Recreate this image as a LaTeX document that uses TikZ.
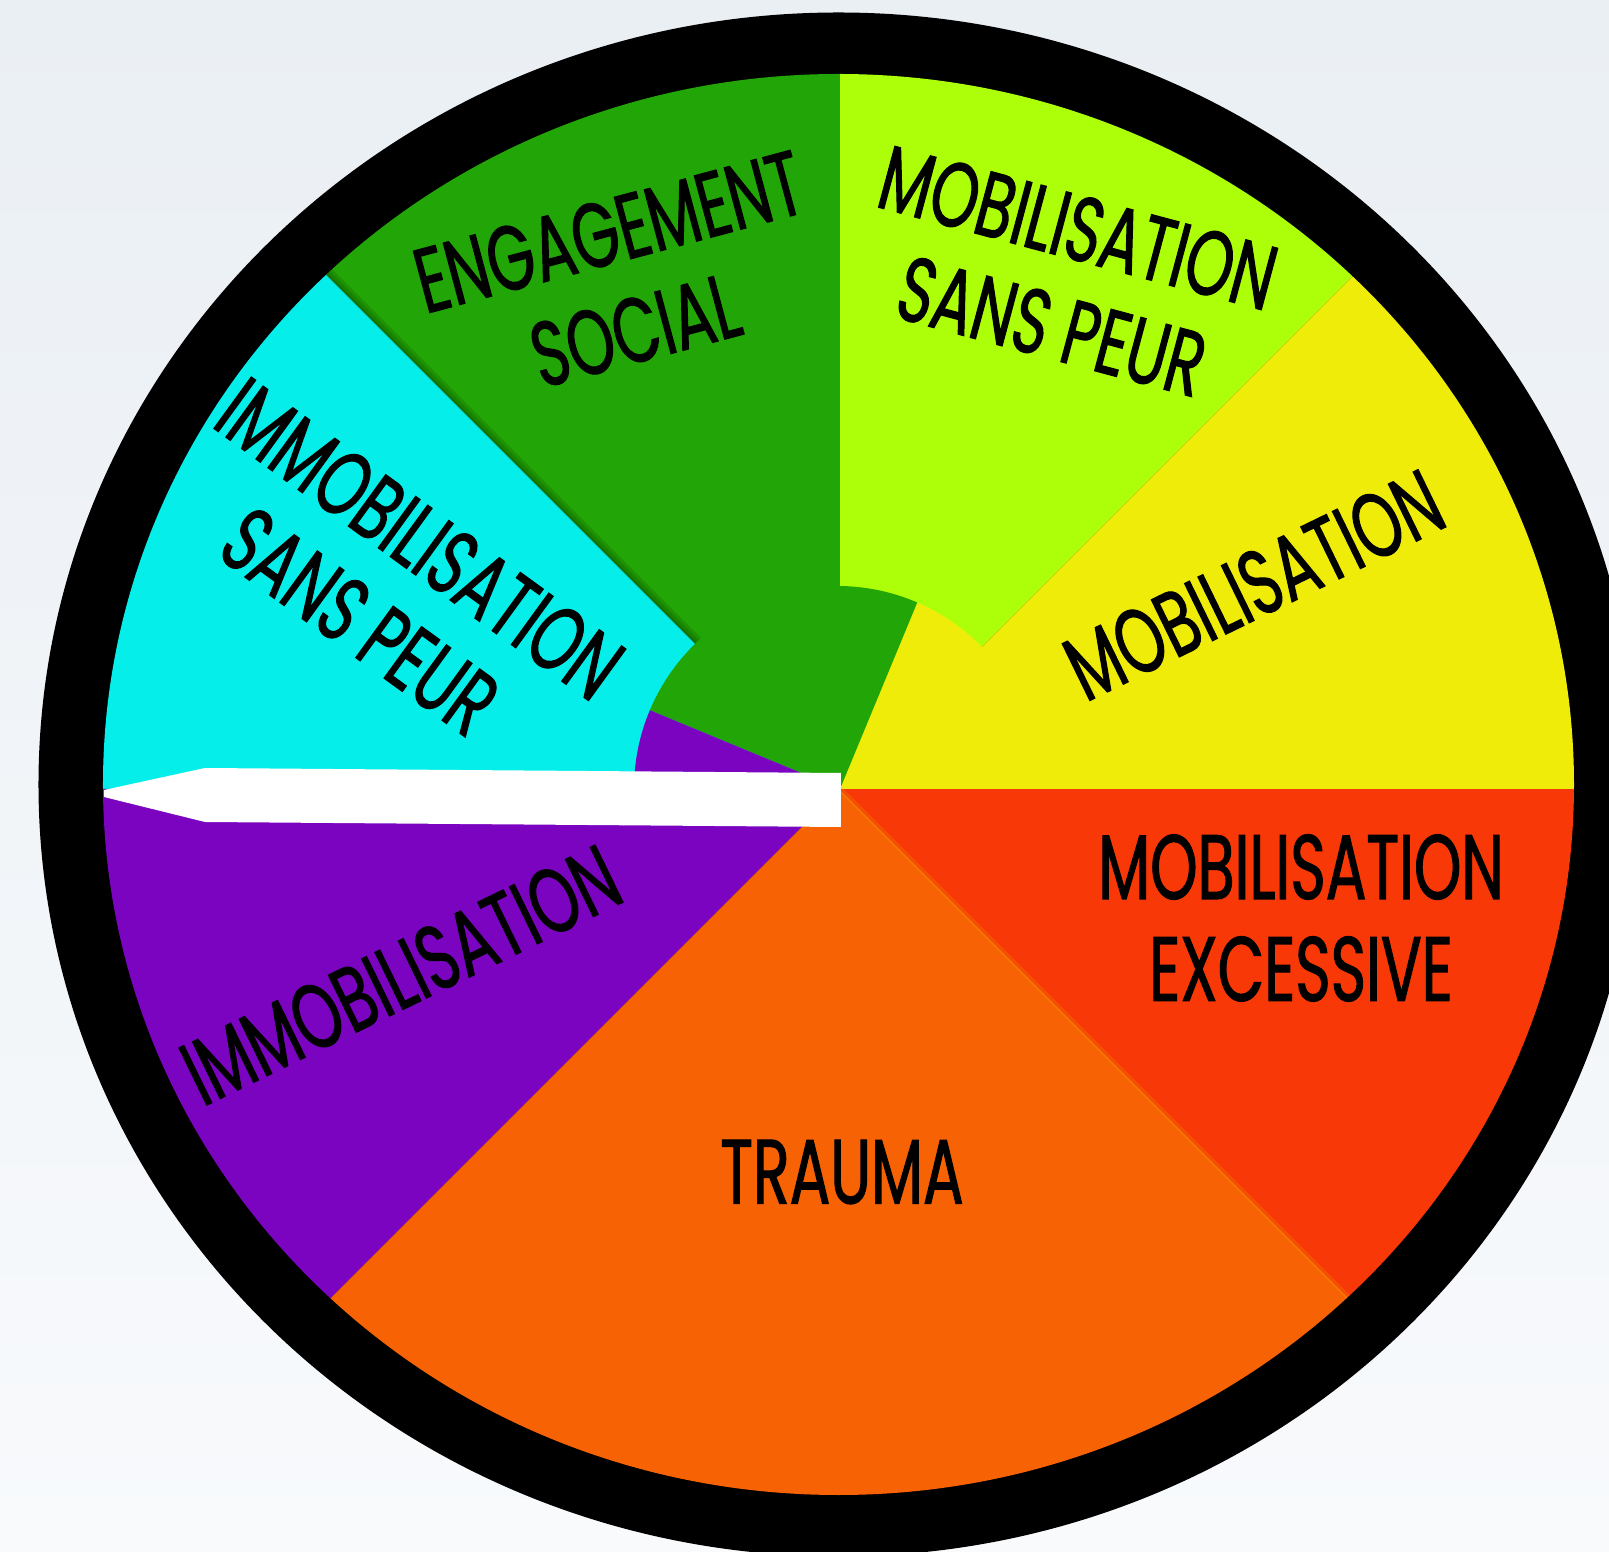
\documentclass[tikz,border=0pt]{standalone}
\usepackage{fontspec}
\newfontfamily\wheelfont[FakeStretch=0.66, FakeBold=1.2]{Poppins}
\usepackage{tikz}

\definecolor{engage}{RGB}{34,165,6}
\definecolor{calmgreen}{RGB}{172,255,8}
\definecolor{mobyellow}{RGB}{239,236,10}
\definecolor{excessred}{RGB}{248,56,6}
\definecolor{traumaorange}{RGB}{247,98,4}
\definecolor{immopurple}{RGB}{122,4,192}
\definecolor{freezecyan}{RGB}{6,238,234}
\definecolor{bgtop}{RGB}{234,239,244}
\definecolor{bgbottom}{RGB}{248,250,252}

\begin{document}
\begin{tikzpicture}[x=0.01cm, y=0.01cm,
  lbl/.style={font=\wheelfont\fontsize{26}{29}\selectfont, align=center, inner sep=0pt}]

% Frame and background
\useasboundingbox (-840,-763) rectangle (769,789);
\clip (-840,-763) rectangle (769,789);
\shade[top color=bgtop, bottom color=bgbottom] (-840,-763) rectangle (769,789);

% Black rim
\fill[black] (-1.5,4.5) ellipse [x radius=800, y radius=772];

% Sectors
\begin{scope}
\clip (-1.5,4.5) ellipse [x radius=735.5, y radius=710.5];
\fill[calmgreen] (0,0) -- (45:1200) -- (90:1200) -- cycle;
\fill[engage] (0,0) -- (90:1200) -- (135:1200) -- cycle;

% soft shadow of the cyan sector on the green one
\foreach \d in {2,4,6}
  \fill[black, opacity=.1, shift={(\d,\d)}] (0,0) -- (135:1200) -- (180:1200) -- cycle;

\fill[freezecyan] (0,0) -- (135:1200) -- (180:1200) -- cycle;
\fill[immopurple] (0,0) -- (180:1200) -- (225:1200) -- cycle;
\fill[traumaorange] (0,0) -- (225:1200) -- (270:1200) -- (315:1200) -- cycle;
\fill[excessred] (0,0) -- (315:1200) -- (360:1200) -- cycle;
\fill[mobyellow] (0,0) -- (0:1200) -- (45:1200) -- cycle;
\draw[orange!70!yellow, opacity=.2, line width=1.5] (0,0) -- (315:1200);

% Hub, turned against the outer ring
\begin{scope}
\clip (-3,0) circle (203);
\fill[mobyellow] (0,0) -- (40:400) -- (67.5:400) -- cycle;
\fill[engage] (0,0) -- (67.5:400) -- (112.5:400) -- (157.5:400) -- cycle;
\fill[immopurple] (0,0) -- (157.5:400) -- (185:400) -- cycle;
\end{scope}
\end{scope}

% Pointer
\fill[white] (-736,-1) -- (-635,21) -- (1,16) -- (1,-38) -- (-635,-33) -- (-736,-8) -- cycle;

% Labels
\node[lbl] (excessive) at (461,-129) {MOBILISATION\\EXCESSIVE};
\node[lbl] (trauma) at (2,-383) {TRAUMA};
\node[lbl, rotate=26] (immobil) at (-439,-186) {IMMOBILISATION};
\node[lbl, rotate=-36] (freeze) at (-450,209) {IMMOBILISATION\\SANS PEUR};
\node[lbl, rotate=15] (social) at (-218,508) {ENGAGEMENT\\SOCIAL};
\node[lbl, rotate=-15] (safe) at (225,512) {MOBILISATION\\SANS PEUR};
\node[lbl, rotate=26] (mobil) at (414,204) {MOBILISATION};

\end{tikzpicture}
\end{document}
